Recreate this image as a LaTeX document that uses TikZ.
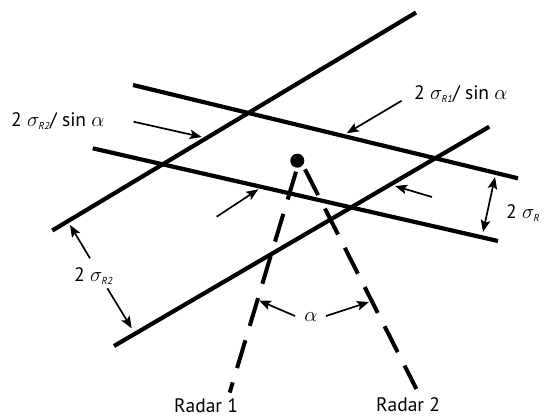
\documentclass[tikz,border=0pt]{standalone}
\usepackage{fontspec}
\setmainfont{PT Sans}
\usetikzlibrary{arrows.meta}
\newcommand{\sub}[1]{\mbox{\fontsize{10}{10}\selectfont\itshape #1}}
\begin{document}
\begin{tikzpicture}[x=1pt,y=-1pt,
  band/.style={line width=4.2pt},
  tipA/.tip={Stealth[length=12pt,width=9.5pt,inset=2.5pt]},
  ptr/.style={line width=1.7pt,-tipA},
  dptr/.style={line width=1.7pt,tipA-tipA},
  radar/.style={line width=4pt,dash pattern=on 29pt off 15pt},
  lbl/.style={font=\fontsize{19.5}{21}\selectfont,inner sep=0pt}]
\useasboundingbox (0,0) rectangle (544,418);
% band lines
\coordinate (A1) at (52.3,230.5);  \coordinate (A2) at (416,12.5);
\coordinate (B1) at (114,346);     \coordinate (B2) at (489.3,126.7);
\coordinate (C1) at (133,85);      \coordinate (C2) at (518,178.3);
\coordinate (D1) at (92.7,148.3);  \coordinate (D2) at (498,241);
\draw[band] (A1) -- (A2);
\draw[band] (B1) -- (B2);
\draw[band] (C1) -- (C2);
\draw[band] (D1) -- (D2);
% target dot
\node[circle,fill,minimum size=14pt,inner sep=0pt] (dot) at (297.3,160.7) {};
% radar lines of sight
\coordinate (r1s) at (296,171.7);  \coordinate (r1e) at (229.7,392.6);
\coordinate (r2s) at (305,169.3);  \coordinate (r2e) at (416.4,389);
\draw[radar] (r1s) -- (r1e);
\draw[radar] (r2s) -- (r2e);
% labels
\node[lbl,anchor=west] (lR2s) at (11,121) {2 $\sigma_{\sub{R2}}$/ sin $\alpha$};
\node[lbl,anchor=west] (lR1s) at (414,94) {2 $\sigma_{\sub{R1}}$/ sin $\alpha$};
\node[lbl,anchor=west] (lR) at (506,213) {2 $\sigma_{\sub{R}}$};
\node[lbl,anchor=west] (lR2) at (74,276) {2 $\sigma_{\sub{R2}}$};
\node[lbl] (lal) at (311,317) {$\alpha$};
\node[lbl,anchor=base west] (rad1) at (174,412.5) {Radar 1};
\node[lbl,anchor=base west] (rad2) at (376,411) {Radar 2};
% pointer arrows
\coordinate (p1t) at (133.6,121.7); \coordinate (p1h) at (201.7,137);
\coordinate (p2t) at (401.7,100.7); \coordinate (p2h) at (346.7,133.3);
\coordinate (p3t) at (216.7,216.7); \coordinate (p3h) at (258.3,189.3);
\coordinate (p4t) at (432,197);     \coordinate (p4h) at (395,186);
\coordinate (p5t) at (90,258.3);    \coordinate (p5h) at (70,225);
\coordinate (p6t) at (107.3,288.3); \coordinate (p6h) at (131.7,328.3);
\coordinate (p7t) at (295,316);     \coordinate (p7h) at (259,300.5);
\coordinate (p8t) at (326,316);     \coordinate (p8h) at (369,302);
\coordinate (q1) at (495,177);      \coordinate (q2) at (483,232);
\draw[ptr] (p1t) -- (p1h);
\draw[ptr] (p2t) -- (p2h);
\draw[ptr] (p3t) -- (p3h);
\draw[ptr] (p4t) -- (p4h);
\draw[ptr] (p5t) -- (p5h);
\draw[ptr] (p6t) -- (p6h);
\draw[ptr] (p7t) -- (p7h);
\draw[ptr] (p8t) -- (p8h);
\draw[dptr] (q1) -- (q2);
\end{tikzpicture}
\end{document}
